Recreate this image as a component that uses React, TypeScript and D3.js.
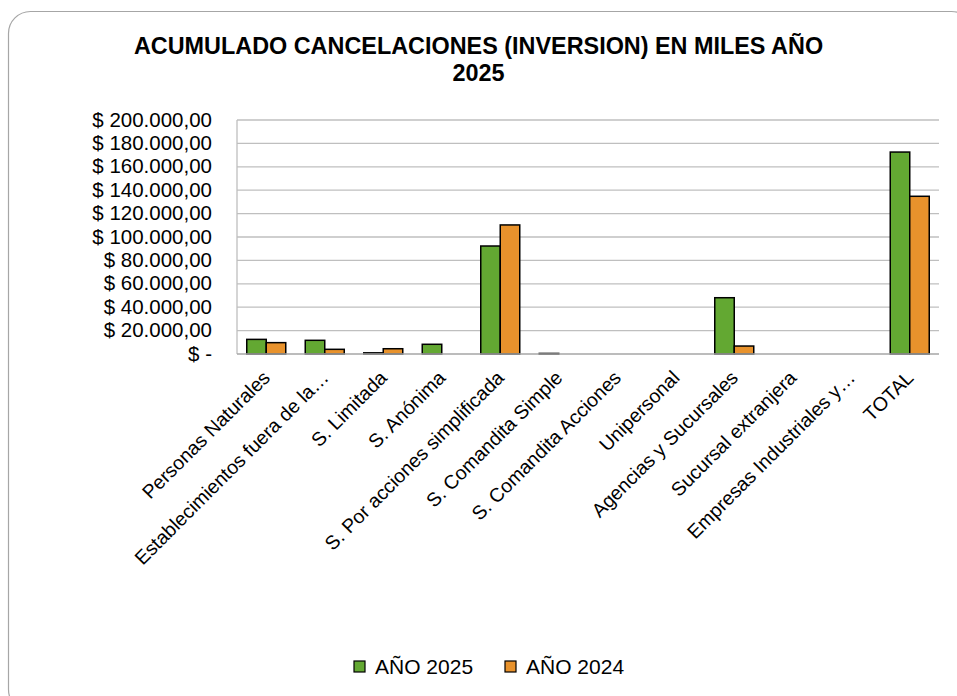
import React, { useEffect, useRef } from "react";
import * as d3 from "d3";

const categories = [
  "Personas Naturales",
  "Establecimientos fuera de la…",
  "S. Limitada",
  "S. Anónima",
  "S. Por acciones simplificada",
  "S. Comandita Simple",
  "S. Comandita Acciones",
  "Unipersonal",
  "Agencias y Sucursales",
  "Sucursal extranjera",
  "Empresas Industriales y…",
  "TOTAL",
];
const values2025 = [12500, 11700, 1000, 8300, 92300, 500, 0, 0, 48100, 0, 0, 172600];
const values2024 = [9700, 4000, 4500, 0, 110300, 0, 0, 0, 6800, 0, 0, 134800];
const seriesNames = ["AÑO 2025", "AÑO 2024"];
const seriesColors = ["#63A832", "#E8922C"];
const yTicks = [0, 20000, 40000, 60000, 80000, 100000, 120000, 140000, 160000, 180000, 200000];

const W = 957;
const H = 696;

const fmt = (v: number) => {
  if (v === 0) return "$ -";
  const s = d3.format(",.2f")(v);
  return "$ " + s.replace(/,/g, "#").replace(".", ",").replace(/#/g, ".");
};

const App = () => {
  const ref = useRef<SVGSVGElement>(null);

  useEffect(() => {
    if (!ref.current) return;
    const svg = d3.select(ref.current);
    svg.selectAll("*").remove();

    const font = "Liberation Sans, Arial, sans-serif";
    const left = 237;
    const right = 939;
    const top = 120;
    const bottom = 354;

    svg
      .append("rect")
      .attr("x", 8.5)
      .attr("y", 11.5)
      .attr("width", 965)
      .attr("height", 700)
      .attr("rx", 22)
      .attr("fill", "#fff")
      .attr("stroke", "#a6a6a6")
      .attr("stroke-width", 1.2);

    const title = svg
      .append("text")
      .attr("text-anchor", "middle")
      .attr("font-family", font)
      .attr("font-weight", "bold")
      .attr("font-size", 23.4)
      .attr("fill", "#000");
    title.append("tspan").attr("x", 478.5).attr("y", 54).text("ACUMULADO CANCELACIONES (INVERSION) EN MILES AÑO");
    title.append("tspan").attr("x", 478.5).attr("y", 81).text("2025");

    const x0 = d3.scaleBand().domain(categories).range([left, right]).paddingInner(0).paddingOuter(0);
    const x1 = d3
      .scaleBand()
      .domain(seriesNames)
      .range([0, x0.bandwidth()])
      .paddingInner(0)
      .paddingOuter(0.5);
    const y = d3.scaleLinear().domain([0, 200000]).range([bottom, top]);

    // gridlines
    svg
      .append("g")
      .selectAll("line")
      .data(yTicks.filter((t) => t > 0))
      .join("line")
      .attr("x1", left)
      .attr("x2", right)
      .attr("y1", (d) => y(d))
      .attr("y2", (d) => y(d))
      .attr("stroke", "#bfbfbf")
      .attr("stroke-width", 1.3);

    // y axis line
    svg
      .append("line")
      .attr("x1", left)
      .attr("x2", left)
      .attr("y1", top)
      .attr("y2", bottom)
      .attr("stroke", "#bfbfbf")
      .attr("stroke-width", 1.3);

    // y labels
    svg
      .append("g")
      .selectAll("text")
      .data(yTicks)
      .join("text")
      .attr("x", 212)
      .attr("y", (d) => y(d) + 6.6)
      .attr("text-anchor", "end")
      .attr("font-family", font)
      .attr("font-size", 20.5)
      .attr("fill", "#000")
      .text((d) => fmt(d));

    const vals = [values2025, values2024];
    const g = svg
      .append("g")
      .selectAll("g")
      .data(categories)
      .join("g")
      .attr("transform", (d) => `translate(${x0(d)},0)`);

    g.selectAll("rect")
      .data((d) => seriesNames.map((s, k) => ({ s, k, v: vals[k][categories.indexOf(d)] })))
      .join("rect")
      .filter((d) => d.v > 0)
      .attr("x", (d) => x1(d.s)!)
      .attr("y", (d) => y(d.v))
      .attr("width", x1.bandwidth())
      .attr("height", (d) => bottom - y(d.v))
      .attr("fill", (d) => seriesColors[d.k])
      .attr("stroke", "#000")
      .attr("stroke-width", 1.5);

    // x axis line
    svg
      .append("line")
      .attr("x1", left)
      .attr("x2", right)
      .attr("y1", bottom)
      .attr("y2", bottom)
      .attr("stroke", "#a6a6a6")
      .attr("stroke-width", 1.3);

    // x labels
    svg
      .append("g")
      .selectAll("text")
      .data(categories)
      .join("text")
      .attr("text-anchor", "end")
      .attr("font-family", font)
      .attr("font-size", 19.5)
      .attr("fill", "#000")
      .attr("transform", (d) => `translate(${x0(d)! + x0.bandwidth() / 2 + 5},${379}) rotate(-45)`)
      .text((d) => d);

    // legend
    const legend = svg.append("g").attr("transform", "translate(354,674)");
    const lx = [0, 151];
    seriesNames.forEach((s, k) => {
      legend
        .append("rect")
        .attr("x", lx[k])
        .attr("y", -13)
        .attr("width", 11)
        .attr("height", 11)
        .attr("fill", seriesColors[k])
        .attr("stroke", "#000")
        .attr("stroke-width", 1.2);
      legend
        .append("text")
        .attr("x", lx[k] + 21)
        .attr("y", 0)
        .attr("font-family", font)
        .attr("font-size", 21)
        .attr("fill", "#000")
        .text(s);
    });
  }, []);

  return (
    <svg
      ref={ref}
      width={W}
      height={H}
      style={{ position: "absolute", left: 0, top: 0, background: "#fff" }}
    />
  );
};

export default App;
